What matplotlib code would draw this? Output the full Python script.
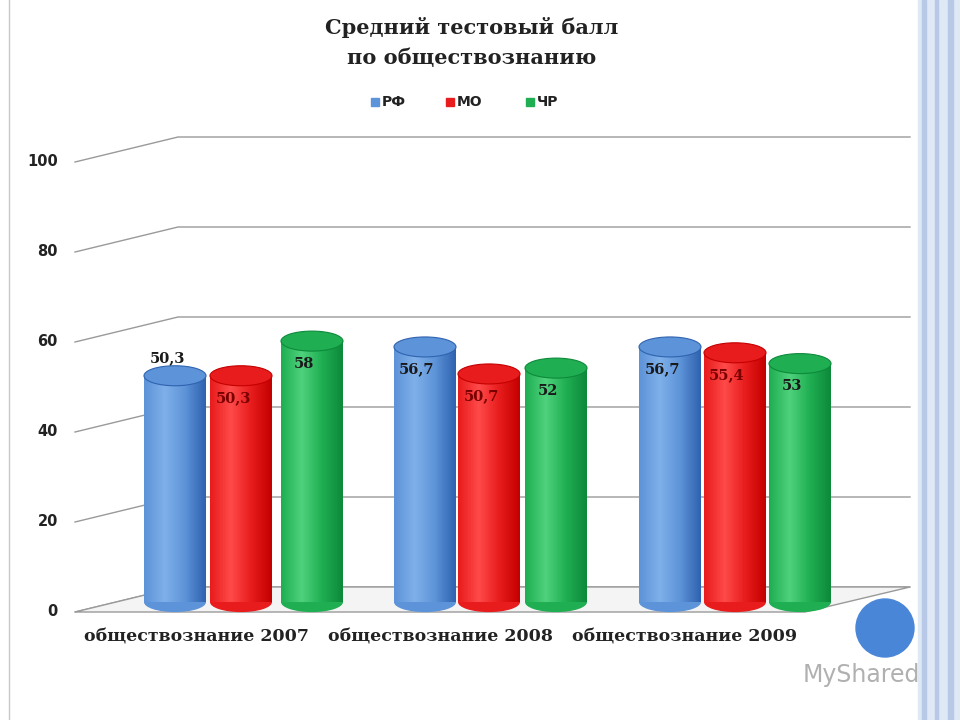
import numpy as np
import matplotlib.pyplot as plt
from matplotlib.patches import Ellipse, Rectangle, Polygon, Circle

categories = ["обществознание 2007", "обществознание 2008", "обществознание 2009"]
series = ["РФ", "МО", "ЧР"]
rf = [50.3, 56.7, 56.7]
mo = [50.3, 50.7, 55.4]
chr_ = [58, 52, 53]
labels = [["50,3", "56,7", "56,7"], ["50,3", "50,7", "55,4"], ["58", "52", "53"]]
yticks = [0, 20, 40, 60, 80, 100]

colors = [("#2f63b0", "#7fb0ea", "#5d93d8"), ("#c40000", "#ff4a4a", "#e81c1c"), ("#0d8a3a", "#4fd27c", "#1fae52")]

fig = plt.figure(figsize=(9.6, 7.2), dpi=100)
ax = fig.add_axes([0, 0, 1, 1])
ax.set_xlim(0, 960)
ax.set_ylim(-24, 136)  # value units, 4.5 px per unit
ax.axis("off")
k = 1 / 4.5  # px -> value units

# page decoration
ax.add_patch(Rectangle((918, -24), 42, 160, color="#dfe8f5", zorder=0))
for x0, w in [(922, 4), (935, 3), (948, 5)]:
    ax.add_patch(Rectangle((x0, -24), w, 160, color="#b7c9e6", zorder=0))
ax.plot([9, 9], [-24, 136], color="#c8c8c8", lw=1)

# perspective grid
dx, dy = 103, 25 * k
for v in yticks:
    ax.plot([75, 75 + dx, 910], [v, v + dy, v + dy], color="#9a9a9a", lw=1, zorder=1)
    ax.text(58, v, str(v), ha="right", va="center", fontsize=10.5, fontweight="bold", color="#222")
ax.add_patch(Polygon([[75, 0], [805, 0], [910, dy], [75 + dx, dy]], closed=True,
                     facecolor="#f4f4f4", edgecolor="#9a9a9a", lw=1, zorder=1))

# cylinders
centers = [[175, 425, 670], [241, 489, 735], [312, 556, 800]]
data = [rf, mo, chr_]
w = 62
eh = 20 * k
base = 2.2
grad = np.linspace(0, 1, 64)
for s in range(3):
    dark, light, mid = colors[s]
    for g in range(3):
        cx = centers[s][g]
        top = data[s][g] + base
        x0 = cx - w / 2
        # shaded body
        cmap = plt.matplotlib.colors.LinearSegmentedColormap.from_list("c", [mid, light, mid, dark])
        img = ax.imshow(grad[None, :], extent=[x0, x0 + w, base, top], aspect="auto",
                        cmap=cmap, zorder=3 + s * 0.1)
        clip = Polygon([[x0, base], [x0, top], [x0 + w, top], [x0 + w, base]], closed=True,
                       transform=ax.transData)
        img.set_clip_path(clip)
        ax.add_patch(Ellipse((cx, base), w, eh, facecolor=mid, edgecolor="none", zorder=2.9 + s * 0.1))
        ax.add_patch(Ellipse((cx, top), w, eh, facecolor=mid, edgecolor=dark, lw=0.8, zorder=3.05 + s * 0.1))
        txt_col = "#7a0000" if s == 1 else "#1a1a1a"
        ly = top + 4 if (s == 0 and g == 0) else top - 5
        ax.text(cx - 8, ly, labels[s][g], ha="center", va="center", fontsize=10.5,
                fontweight="bold", family="DejaVu Serif", color=txt_col, zorder=5)

for i, c in enumerate(categories):
    ax.text([196, 440, 685][i], (612 - 637) * k, c, ha="center", va="center",
            fontsize=12.5, fontweight="bold", family="DejaVu Serif", color="#222")

# title and legend
ax.text(472, (612 - 27) * k, "Средний тестовый балл", ha="center", va="center",
        fontsize=15, fontweight="bold", family="DejaVu Serif", color="#222")
ax.text(472, (612 - 58) * k, "по обществознанию", ha="center", va="center",
        fontsize=15, fontweight="bold", family="DejaVu Serif", color="#222")
for i, (x, name) in enumerate(zip([375, 450, 530], series)):
    ax.add_patch(Rectangle((x - 4, (612 - 106) * k), 8, 8 * k, color=colors[i][2]))
    ax.text(x + 7, (612 - 102) * k, name, ha="left", va="center", fontsize=10,
            fontweight="bold", color="#222")

ax.add_patch(Circle((885, (612 - 628) * k), 1, visible=False))
ax.add_patch(Ellipse((885, (612 - 628) * k), 58, 58 * k, color="#4a86d8", zorder=6))
ax.text(920, (612 - 675) * k, "MyShared", ha="right", va="center", fontsize=17,
        color="#b0b0b0", zorder=6)

fig.savefig("out.png", dpi=100)
